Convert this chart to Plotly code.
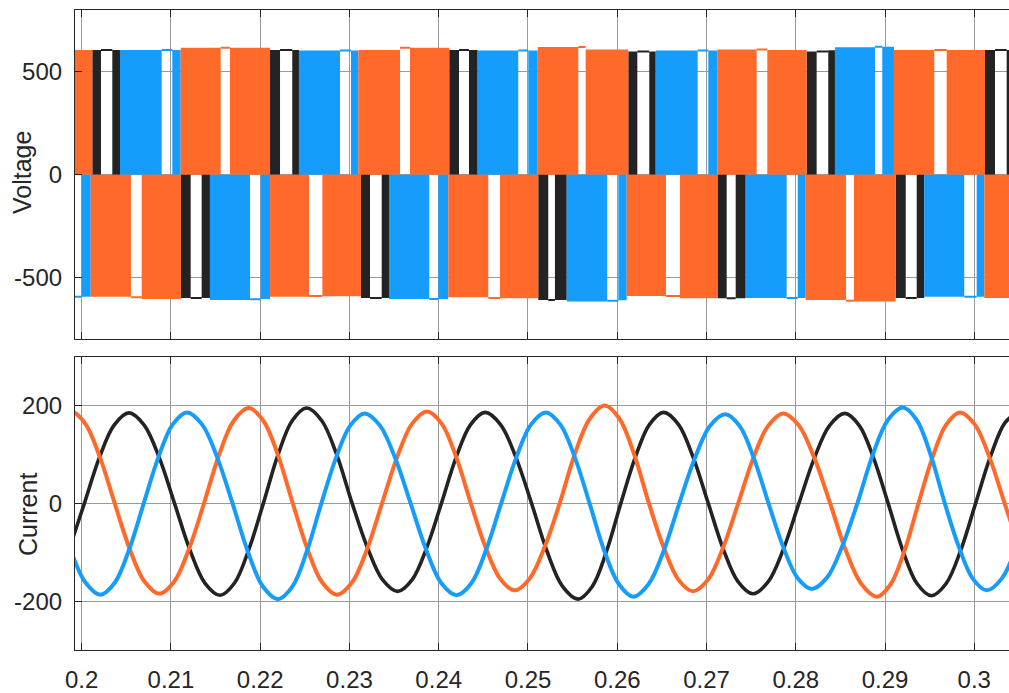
import plotly.graph_objects as go

# ---------------- data ----------------
# Top panel: PWM voltage blocks. Edges in seconds, one phase code per segment
# K/B/O = filled block of black/blue/orange phase, k/b/o = white gap bounded by that phase's level line
pos_edges = [0.19900, 0.20119, 0.20216, 0.20343, 0.20429, 0.20896, 0.21015, 0.21109, 0.21557, 0.21661,
             0.22110, 0.22222, 0.22359, 0.22434, 0.22894, 0.23017, 0.23099, 0.23566, 0.23678,
             0.24118, 0.24227, 0.24339, 0.24436, 0.24891, 0.25003, 0.25109, 0.25564, 0.25646,
             0.26124, 0.26225, 0.26359, 0.26431, 0.26901, 0.27020, 0.27121, 0.27562, 0.27681,
             0.28122, 0.28234, 0.28364, 0.28439, 0.28888, 0.28969, 0.29100, 0.29552, 0.29691,
             0.30120, 0.30232, 0.30363, 0.30450]
pos_phase = ["O",
             "K", "k", "K", "B", "b", "B", "O", "o", "O",
             "K", "k", "K", "B", "b", "B", "O", "o", "O",
             "K", "k", "K", "B", "b", "B", "O", "o", "O",
             "K", "k", "K", "B", "b", "B", "O", "o", "O",
             "K", "k", "K", "B", "b", "B", "O", "o", "O",
             "K", "k", "K"]
pos_level = [606,
             606, 606, 606, 606, 606, 606, 617, 617, 617,
             606, 606, 606, 603, 603, 603, 606, 617, 617,
             606, 606, 606, 603, 603, 603, 620, 620, 608,
             598, 598, 598, 603, 603, 603, 608, 608, 606,
             598, 598, 605, 619, 622, 622, 606, 606, 606,
             606, 606, 606]

neg_edges = [0.19900, 0.20000, 0.20101, 0.20552, 0.20672, 0.21112, 0.21221, 0.21344, 0.21437, 0.21886,
             0.22005, 0.22110, 0.22547, 0.22696, 0.23129, 0.23230, 0.23361, 0.23443, 0.23894,
             0.23995, 0.24107, 0.24555, 0.24686, 0.25115, 0.25227, 0.25302, 0.25434, 0.25888,
             0.26012, 0.26106, 0.26546, 0.26703, 0.27123, 0.27226, 0.27327, 0.27439, 0.27898,
             0.28022, 0.28111, 0.28563, 0.28652, 0.29119, 0.29232, 0.29355, 0.29440, 0.29888,
             0.30027, 0.30112, 0.30450]
neg_phase = ["b", "B",
             "O", "o", "O", "K", "k", "K", "B", "b", "B",
             "O", "o", "O", "K", "k", "K", "B", "b", "B",
             "O", "o", "O", "K", "k", "K", "B", "b", "B",
             "O", "o", "O", "K", "k", "K", "B", "b", "B",
             "O", "o", "O", "K", "k", "K", "B", "b", "B",
             "O"]
neg_level = [-592, -592,
             -592, -595, -603, -598, -598, -598, -608, -605, -603,
             -592, -589, -590, -598, -598, -598, -603, -603, -603,
             -595, -598, -600, -608, -608, -608, -616, -612, -610,
             -589, -589, -600, -600, -600, -600, -598, -598, -598,
             -608, -612, -616, -598, -598, -598, -592, -592, -592,
             -598]

# Bottom panel: phase currents (time in s, current in A)
t_black = [0.19863, 0.2003, 0.20197, 0.20363, 0.2053, 0.2070, 0.2087, 0.2104, 0.2121, 0.2138, 0.2155,
           0.21712, 0.21873, 0.22035, 0.22197, 0.22358, 0.2252, 0.2269, 0.2286, 0.2303, 0.2320, 0.2337,
           0.2354, 0.23703, 0.23867, 0.2403, 0.24193, 0.24357, 0.2452, 0.24693, 0.24867, 0.2504, 0.25213,
           0.25387, 0.2556, 0.2572, 0.2588, 0.2604, 0.2620, 0.2636, 0.2652, 0.26687, 0.26853, 0.2702,
           0.27187, 0.27353, 0.2752, 0.27692, 0.27863, 0.28035, 0.28207, 0.28378, 0.2855, 0.28712,
           0.28873, 0.29035, 0.29197, 0.29358, 0.2952, 0.29685, 0.2985, 0.30015, 0.3018, 0.30345, 0.3051]
i_black = [-92, 0, 93, 160, 185, 160, 93, 0, -94, -163, -188,
           -163, -94, 0, 98, 169, 195, 169, 98, 0, -90, -156,
           -180, -156, -90, 0, 93, 161, 186, 161, 93, 0, -98,
           -170, -196, -170, -98, 0, 93, 161, 186, 161, 93, 0,
           -93, -160, -185, -160, -93, 0, 92, 159, 184, 159,
           92, 0, -95, -164, -189, -164, -95, 0, 95, 165, 190]

t_blue = [0.19537, 0.19705, 0.19873, 0.20042, 0.2021, 0.20372, 0.20533, 0.20695, 0.20857, 0.21018,
          0.2118, 0.2135, 0.2152, 0.2169, 0.2186, 0.2203, 0.2220, 0.22362, 0.22523, 0.22685, 0.22847,
          0.23008, 0.2317, 0.23342, 0.23513, 0.23685, 0.23857, 0.24028, 0.2420, 0.24367, 0.24533,
          0.2470, 0.24867, 0.25033, 0.2520, 0.25363, 0.25527, 0.2569, 0.25853, 0.26017, 0.2618,
          0.26352, 0.26523, 0.26695, 0.26867, 0.27038, 0.2721, 0.27372, 0.27533, 0.27695, 0.27857,
          0.28018, 0.2818, 0.2835, 0.2852, 0.2869, 0.2886, 0.2903, 0.2920, 0.29357, 0.29513, 0.2967,
          0.29827, 0.29983, 0.3014, 0.30307, 0.30473]
i_blue = [95, 0, -94, -162, -187, -162, -94, 0, 93, 161,
          186, 161, 93, 0, -98, -170, -196, -170, -98, 0, 92,
          159, 184, 159, 92, 0, -94, -163, -188, -163, -94,
          0, 93, 161, 186, 161, 93, 0, -96, -165, -191,
          -165, -96, 0, 91, 158, 182, 158, 91, 0, -88,
          -152, -175, -152, -88, 0, 98, 170, 196, 170, 98, 0,
          -89, -154, -178, -154, -89]

t_orange = [0.19703, 0.1987, 0.20037, 0.20203, 0.2037, 0.20537, 0.20703, 0.2087, 0.21037, 0.21203,
            0.2137, 0.21537, 0.21703, 0.2187, 0.22035, 0.222, 0.22365, 0.2253, 0.22695, 0.2286,
            0.23028, 0.23197, 0.23365, 0.23533, 0.23702, 0.2387, 0.24033, 0.24197, 0.2436, 0.24523,
            0.24687, 0.2485, 0.25018, 0.25187, 0.25355, 0.25523, 0.25692, 0.2586, 0.26025, 0.2619,
            0.26355, 0.2652, 0.26685, 0.2685, 0.27018, 0.27187, 0.27355, 0.27523, 0.27692, 0.2786,
            0.28035, 0.2821, 0.28385, 0.2856, 0.28735, 0.2891, 0.29065, 0.2922, 0.29375, 0.2953,
            0.29685, 0.2984, 0.30007, 0.30173, 0.3034, 0.30507]
i_orange = [164, 189, 164, 95, 0, -93, -160, -185, -160, -93,
            0, 98, 169, 195, 169, 98, 0, -94, -162, -187,
            -162, -94, 0, 94, 163, 188, 163, 94, 0, -89,
            -154, -178, -154, -89, 0, 100, 173, 200, 173, 100,
            0, -90, -156, -180, -156, -90, 0, 92, 159, 184,
            159, 92, 0, -96, -165, -191, -165, -96, 0, 93,
            161, 186, 161, 93, 0, -93]

x_tick_vals = [0.20, 0.21, 0.22, 0.23, 0.24, 0.25, 0.26, 0.27, 0.28, 0.29, 0.30]
x_tick_text = ["0.2", "0.21", "0.22", "0.23", "0.24", "0.25", "0.26", "0.27", "0.28", "0.29", "0.3"]
v_tick_vals = [-500, 0, 500]
v_tick_text = ["-500", "0", "500"]
i_tick_vals = [-200, 0, 200]
i_tick_text = ["-200", "0", "200"]

assert len(pos_edges) == len(pos_phase) + 1 == len(pos_level) + 1
assert len(neg_edges) == len(neg_phase) + 1 == len(neg_level) + 1
assert len(t_black) == len(i_black) and len(t_blue) == len(i_blue) and len(t_orange) == len(i_orange)

# ---------------- styles ----------------
COLORS = {"K": "#232323", "B": "#169CFB", "O": "#FF6A2A"}
GRID = "#9a9a9a"
FRAME = "#262626"
TXT = "#262626"
FONT = "Liberation Sans, Arial, Helvetica, sans-serif"
X_RANGE = [0.19925, 0.30389]

fig = go.Figure()


def add_blocks(edges, phases, levels):
    for ph in "KBO":
        xs, ws, ys, lx, ly = [], [], [], [], []
        for i, p in enumerate(phases):
            a, b = edges[i], edges[i + 1]
            if p == ph:
                xs.append((a + b) / 2)
                ws.append(b - a)
                ys.append(levels[i])
            elif p == ph.lower():
                lx += [a, b, None]
                ly += [levels[i], levels[i], None]
        fig.add_trace(go.Bar(x=xs, y=ys, width=ws, base=0,
                             marker=dict(color=COLORS[ph], line=dict(width=0)),
                             xaxis="x", yaxis="y", showlegend=False, hoverinfo="skip"))
        if lx:
            fig.add_trace(go.Scatter(x=lx, y=ly, mode="lines",
                                     line=dict(color=COLORS[ph], width=2),
                                     xaxis="x", yaxis="y", showlegend=False, hoverinfo="skip"))


add_blocks(pos_edges, pos_phase, pos_level)
add_blocks(neg_edges, neg_phase, neg_level)

for t, i, c, w in [(t_black, i_black, "K", 3.6), (t_orange, i_orange, "O", 4), (t_blue, i_blue, "B", 4)]:
    fig.add_trace(go.Scatter(x=t, y=i, mode="lines", line=dict(color=COLORS[c], width=w, shape="spline"),
                             xaxis="x2", yaxis="y2", showlegend=False, hoverinfo="skip"))

common_x = dict(range=X_RANGE, tickvals=x_tick_vals, ticktext=x_tick_text, ticks="inside", ticklen=7,
                tickcolor=FRAME, showgrid=True, gridcolor=GRID, gridwidth=1, showline=True,
                linecolor=FRAME, linewidth=1.2, mirror="ticks", zeroline=False)
common_y = dict(ticks="inside", ticklen=7, tickcolor=FRAME, showgrid=True, gridcolor=GRID, gridwidth=1,
                showline=True, linecolor=FRAME, linewidth=1.2, mirror=False, zeroline=False,
                ticklabelstandoff=7)

fig.update_layout(
    width=1009, height=693,
    margin=dict(l=75, r=0, t=10, b=43, pad=0),
    paper_bgcolor="white", plot_bgcolor="white",
    barmode="overlay", showlegend=False,
    font=dict(family=FONT, size=24, color=TXT),
    xaxis=dict(domain=[0, 1], anchor="y", showticklabels=False, **common_x),
    yaxis=dict(domain=[0.4852, 1], anchor="x", range=[-800, 800], tickvals=v_tick_vals,
               ticktext=v_tick_text, **common_y),
    xaxis2=dict(domain=[0, 1], anchor="y2", showticklabels=True, ticklabelstandoff=8, **common_x),
    yaxis2=dict(domain=[0, 0.4583], anchor="x2", range=[-300, 300], tickvals=i_tick_vals,
                ticktext=i_tick_text, **common_y),
    annotations=[
        dict(text="Voltage", xref="paper", yref="paper", x=0, xshift=-53, y=(650 - 173) / 640,
             textangle=-90, showarrow=False, xanchor="center", yanchor="middle",
             font=dict(family=FONT, size=25, color=TXT)),
        dict(text="Current", xref="paper", yref="paper", x=0, xshift=-47, y=(650 - 515) / 640,
             textangle=-90, showarrow=False, xanchor="center", yanchor="middle",
             font=dict(family=FONT, size=25, color=TXT)),
    ],
)

fig.write_html("out.html", config={"displayModeBar": False},
               post_script="document.body.style.margin='0';document.body.style.overflow='hidden';")
